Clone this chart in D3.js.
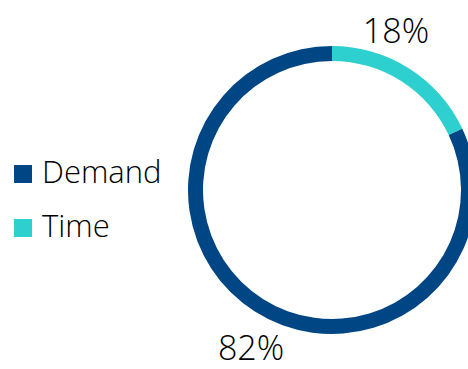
<!DOCTYPE html>
<html>
<head>
<meta charset="utf-8">
<script src="https://cdn.jsdelivr.net/npm/d3@7"></script>
<style>
  html, body { margin: 0; padding: 0; background: #fff; }
  svg text { font-family: "Open Sans", "Noto Sans", sans-serif; font-weight: 300; fill: #000; }
</style>
</head>
<body>
<div class="Graph"></div>
<script>
var categories = ["Time", "Demand"];
var values = [18, 82];
var colors = ["#2ecfcf", "#004685"];
var legendOrder = ["Demand", "Time"];

var W = 468, H = 369;
var cx = 332, cy = 190;
var outerR = 144, innerR = 129;

var svg = d3.select(".Graph")
    .append("svg")
    .attr("width", W)
    .attr("height", H);

var color = d3.scaleOrdinal().domain(categories).range(colors);

var pie = d3.pie().sort(null).value(d => d.v);
var arcs = pie(categories.map((c, i) => ({ c: c, v: values[i] })));

var arc = d3.arc().innerRadius(innerR).outerRadius(outerR);

var g = svg.append("g").attr("transform", "translate(" + cx + "," + cy + ")");

g.selectAll("path")
    .data(arcs)
    .enter()
    .append("path")
    .attr("d", arc)
    .attr("fill", d => color(d.data.c));

// percent labels, pushed outward from the ring
var labelOffset = { "Time": [64, -147], "Demand": [-81, 170] };
g.selectAll(".lbl")
    .data(arcs)
    .enter()
    .append("text")
    .attr("class", "lbl")
    .attr("x", d => labelOffset[d.data.c][0])
    .attr("y", d => labelOffset[d.data.c][1])
    .attr("text-anchor", "middle")
    .style("font-size", "34px")
    .text(d => d.data.v + "%");

// legend
var leg = svg.append("g").attr("transform", "translate(14,165)");
var items = leg.selectAll("g")
    .data(legendOrder)
    .enter()
    .append("g")
    .attr("transform", (d, i) => "translate(0," + i * 54 + ")");
items.append("rect")
    .attr("width", 18)
    .attr("height", 18)
    .attr("fill", d => color(d));
items.append("text")
    .attr("x", 28)
    .attr("y", 18)
    .style("font-size", "31px")
    .text(d => d);
</script>
</body>
</html>
